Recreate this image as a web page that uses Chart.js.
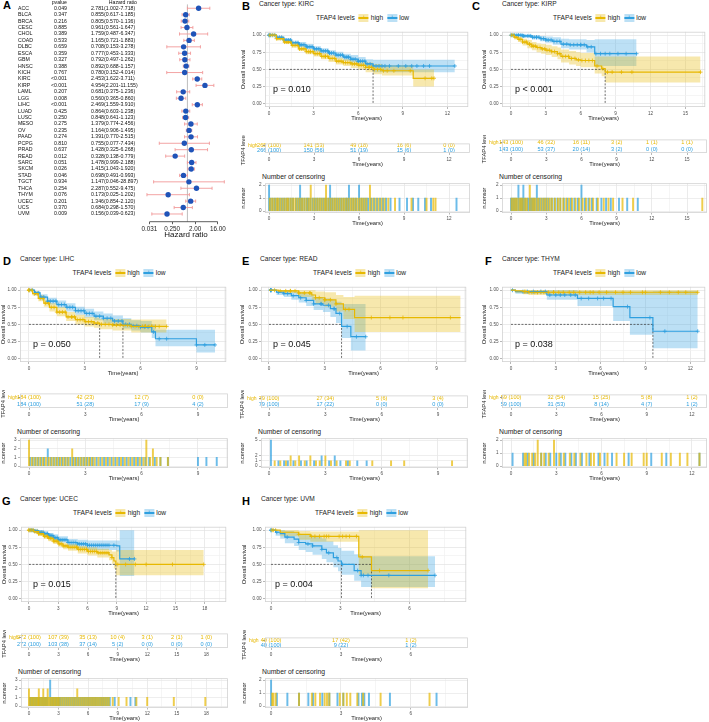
<!DOCTYPE html>
<html>
<head>
<meta charset="utf-8">
<script src="https://cdn.jsdelivr.net/npm/chart.js@4.4.0/dist/chart.umd.min.js"></script>
<style>
  body { margin: 0; background: #fff; }
  #fig { position: relative; width: 709px; height: 722px; overflow: hidden; background: #fff;
         font-family: "Liberation Sans", Arial, sans-serif; color: #222; }
  #fig canvas { position: absolute; }
  .t { position: absolute; white-space: nowrap; line-height: 1; transform: translateY(-50%); }
  .lg { position: absolute; display: flex; align-items: center; transform: translate(-50%, -50%);
        font-size: 6.6px; white-space: nowrap; line-height: 1; }
  .key { display: inline-block; width: 10px; height: 8px; position: relative; margin: 0 2px 0 3px; }
  .key i { position: absolute; left: 0; right: 0; top: 3.4px; height: 1.2px; }
  .key b { position: absolute; left: 0; right: 0; top: 0; text-align: center; font-size: 8px;
           font-weight: normal; line-height: 7px; }
</style>
</head>
<body>
<div id="fig"></div>
<script>
// ---- panel A: forest plot ----
var cancers = ['ACC','BLCA','BRCA','CESC','CHOL','COAD','DLBC','ESCA','GBM','HNSC','KICH','KIRC','KIRP','LAML','LGG','LIHC','LUAD','LUSC','MESO','OV','PAAD','PCPG','PRAD','READ','SARC','SKCM','STAD','TGCT','THCA','THYM','UCEC','UCS','UVM'];
var pvals = ['0.049','0.347','0.216','0.885','0.389','0.533','0.659','0.359','0.327','0.388','0.767','<0.001','<0.001','0.207','0.008','<0.001','0.425','0.250','0.275','0.235','0.274','0.810','0.637','0.012','0.051','0.026','0.046','0.934','0.254','0.076','0.201','0.370','0.009'];
var hrs = [2.781,0.855,0.805,0.961,1.759,1.165,0.708,0.777,0.792,0.892,0.780,2.453,4.954,0.681,0.560,2.469,0.864,0.848,1.379,1.164,1.391,0.755,1.428,0.328,1.478,1.415,0.698,1.147,2.287,0.173,1.346,0.684,0.156];
var hrLow = [1.002,0.617,0.570,0.561,0.487,0.721,0.153,0.453,0.497,0.688,0.152,1.622,2.201,0.375,0.365,1.559,0.603,0.641,0.774,0.906,0.770,0.077,0.325,0.138,0.999,1.043,0.491,0.046,0.552,0.025,0.854,0.298,0.039];
var hrHigh = [7.718,1.185,1.136,1.647,6.347,1.883,3.278,1.333,1.262,1.157,4.014,3.711,11.155,1.236,0.860,3.910,1.238,1.123,2.456,1.495,2.515,7.434,6.268,0.779,2.188,1.920,0.993,28.897,9.475,1.202,2.120,1.570,0.623];
var hrTicks = [0.03125, 0.25, 2, 16];
var hrTickLabels = ['0.031', '0.250', '2.00', '16.00'];

// ---- B: KIRC ----
var kircHighT = [0, 0.5, 1, 1.5, 2, 2.5, 3, 3.5, 4, 4.5, 5, 5.5, 6, 6.5, 7.0, 7.6, 9.7, 11.1];
var kircHighS = [1, 0.95, 0.9, 0.85, 0.8, 0.76, 0.73, 0.69, 0.66, 0.62, 0.6, 0.58, 0.56, 0.53, 0.5, 0.48, 0.37, 0.37];
var kircHighLo = [1, 0.93, 0.87, 0.82, 0.77, 0.72, 0.69, 0.65, 0.61, 0.57, 0.55, 0.52, 0.5, 0.46, 0.43, 0.41, 0.25, 0.25];
var kircHighHi = [1, 0.97, 0.93, 0.89, 0.84, 0.8, 0.78, 0.74, 0.71, 0.67, 0.65, 0.63, 0.62, 0.6, 0.58, 0.56, 0.5, 0.5];
var kircLowT = [0, 0.5, 1, 1.5, 2, 2.5, 3, 3.5, 4, 4.5, 5, 5.5, 6, 6.5, 7, 12.5];
var kircLowS = [1, 0.97, 0.93, 0.89, 0.86, 0.83, 0.8, 0.77, 0.74, 0.71, 0.68, 0.65, 0.62, 0.58, 0.55, 0.55];
var kircLowLo = [1, 0.95, 0.91, 0.86, 0.83, 0.8, 0.76, 0.73, 0.7, 0.66, 0.63, 0.6, 0.56, 0.52, 0.46, 0.46];
var kircLowHi = [1, 0.99, 0.96, 0.92, 0.9, 0.87, 0.84, 0.81, 0.78, 0.76, 0.73, 0.71, 0.68, 0.65, 0.64, 0.64];
var kircHighCens = [0.05, 0.2, 0.35, 0.5, 0.6, 0.75, 0.9, 1.05, 1.2, 1.3, 1.45, 1.6, 1.75, 1.9, 2.05, 2.2, 2.35, 2.5, 2.65, 2.78, 2.78, 2.95, 3.1, 3.25, 3.4, 3.55, 3.7, 3.8, 3.8, 3.95, 4.1, 4.25, 4.4, 4.55, 4.7, 4.85, 5.0, 5.15, 5.3, 5.45, 5.6, 5.75, 5.9, 6.05, 6.2, 6.35, 6.5, 6.73, 6.73, 6.9, 7.1, 7.3, 7.5, 7.7, 7.95, 8.4, 9.5, 10.5, 10.95, 11.1];
var kircLowCens = [0, 0, 0.1, 0.25, 0.4, 0.55, 0.7, 0.85, 1.0, 1.15, 1.3, 1.45, 1.6, 1.8, 1.95, 2.07, 2.07, 2.2, 2.35, 2.5, 2.6, 2.75, 2.9, 3.05, 3.2, 3.35, 3.5, 3.65, 3.8, 3.95, 4.07, 4.07, 4.2, 4.35, 4.5, 4.65, 4.8, 4.95, 5.1, 5.2, 5.33, 5.33, 5.5, 5.65, 5.8, 6.0, 6.0, 6.15, 6.3, 6.45, 6.6, 6.8, 7.0, 7.2, 7.4, 7.6, 7.8, 8.1, 8.7, 9.2, 9.6, 9.95, 10.4, 10.8, 12.5];
var kircRiskT = [0, 3, 6, 9, 12];
var kircRiskHigh = ['265 (100)', '141 (53)', '49 (18)', '16 (6)', '0 (0)'];
var kircRiskLow = ['266 (100)', '150 (56)', '51 (19)', '15 (6)', '1 (0)'];

// ---- C: KIRP ----
var kirpHighT = [0, 0.3, 0.6, 1.0, 1.4, 1.8, 2.2, 2.6, 3.0, 3.5, 4.0, 4.3, 5.0, 5.6, 6.0, 7.2, 7.8, 8.1, 16.3];
var kirpHighS = [1, 0.97, 0.94, 0.9, 0.87, 0.84, 0.82, 0.8, 0.78, 0.76, 0.73, 0.69, 0.66, 0.64, 0.63, 0.55, 0.51, 0.46, 0.46];
var kirpHighLo = [1, 0.94, 0.9, 0.85, 0.81, 0.78, 0.75, 0.73, 0.71, 0.68, 0.65, 0.6, 0.57, 0.55, 0.53, 0.44, 0.4, 0.31, 0.31];
var kirpHighHi = [1, 1, 0.98, 0.95, 0.93, 0.9, 0.88, 0.87, 0.86, 0.84, 0.82, 0.79, 0.77, 0.75, 0.74, 0.69, 0.69, 0.69, 0.69];
var kirpLowT = [0, 1.0, 1.8, 2.5, 3.0, 3.6, 4.3, 5.0, 6.5, 7.2, 10.8];
var kirpLowS = [1, 0.99, 0.97, 0.95, 0.93, 0.91, 0.87, 0.86, 0.83, 0.73, 0.73];
var kirpLowLo = [1, 0.97, 0.94, 0.91, 0.89, 0.86, 0.81, 0.79, 0.75, 0.55, 0.55];
var kirpLowHi = [1, 1, 1, 0.99, 0.98, 0.97, 0.95, 0.94, 0.93, 0.94, 0.94];
var kirpHighCens = [0.05, 0.2, 0.35, 0.5, 0.7, 0.85, 1.0, 1.2, 1.35, 1.6, 1.6, 1.8, 1.95, 2.1, 2.3, 2.5, 2.7, 2.9, 3.1, 3.3, 3.5, 3.75, 4.0, 4.2, 4.45, 4.7, 4.95, 5.2, 5.5, 5.8, 6.1, 6.4, 6.7, 7.0, 7.4, 7.9, 8.3, 8.7, 9.5, 10.4, 16.3];
var kirpLowCens = [0, 0.15, 0.3, 0.45, 0.63, 0.63, 0.8, 0.95, 1.05, 1.05, 1.2, 1.4, 1.55, 1.7, 1.85, 2.0, 2.2, 2.2, 2.4, 2.6, 2.8, 3.0, 3.2, 3.45, 3.7, 3.95, 4.2, 4.5, 4.8, 5.1, 5.4, 5.7, 6.0, 6.0, 6.3, 6.6, 6.9, 7.3, 7.7, 8.1, 8.5, 9.2, 9.9, 10.8];
var kirpRiskT = [0, 3, 6, 9, 12, 15];
var kirpRiskHigh = ['143 (100)', '46 (32)', '16 (11)', '3 (2)', '1 (1)', '1 (1)'];
var kirpRiskLow = ['143 (100)', '53 (37)', '20 (14)', '3 (2)', '0 (0)', '0 (0)'];

// ---- D: LIHC ----
var lihcHighT = [0, 0.2, 0.5, 0.8, 1.1, 1.5, 2.0, 2.5, 3.0, 3.5, 3.8, 4.5, 5.5, 7.4];
var lihcHighS = [1, 0.95, 0.88, 0.81, 0.75, 0.68, 0.61, 0.57, 0.54, 0.52, 0.5, 0.49, 0.47, 0.47];
var lihcHighLo = [1, 0.92, 0.84, 0.76, 0.69, 0.62, 0.55, 0.5, 0.47, 0.45, 0.43, 0.41, 0.38, 0.37];
var lihcHighHi = [1, 0.98, 0.93, 0.86, 0.81, 0.75, 0.68, 0.64, 0.61, 0.6, 0.58, 0.58, 0.57, 0.57];
var lihcLowT = [0, 0.3, 0.6, 1.0, 1.5, 2.0, 2.5, 3.0, 3.5, 4.0, 4.5, 5.05, 5.5, 6.0, 6.6, 6.8, 9.0, 10.0];
var lihcLowS = [1, 0.96, 0.9, 0.84, 0.79, 0.75, 0.7, 0.66, 0.62, 0.59, 0.55, 0.5, 0.48, 0.46, 0.39, 0.29, 0.2, 0.2];
var lihcLowLo = [1, 0.93, 0.86, 0.79, 0.74, 0.69, 0.64, 0.6, 0.56, 0.52, 0.48, 0.44, 0.41, 0.38, 0.3, 0.18, 0.09, 0.09];
var lihcLowHi = [1, 0.99, 0.94, 0.89, 0.85, 0.81, 0.76, 0.73, 0.69, 0.66, 0.63, 0.59, 0.56, 0.55, 0.5, 0.42, 0.42, 0.42];
var lihcHighCens = [0, 0, 0, 0.15, 0.3, 0.45, 0.6, 0.75, 0.9, 1.05, 1.2, 1.35, 1.5, 1.65, 1.8, 1.95, 2.1, 2.3, 2.3, 2.45, 2.6, 2.75, 2.9, 3.05, 3.2, 3.35, 3.5, 3.7, 3.9, 4.1, 4.3, 4.5, 4.7, 4.9, 5.1, 5.3, 5.5, 5.7, 5.9, 6.1, 6.25, 6.25, 6.25, 6.45, 6.6, 6.6, 6.8, 7.0, 7.4];
var lihcLowCens = [0.05, 0.2, 0.35, 0.5, 0.65, 0.8, 1.0, 1.0, 1.15, 1.3, 1.45, 1.6, 1.75, 1.9, 2.05, 2.2, 2.35, 2.5, 2.65, 2.8, 2.95, 3.1, 3.25, 3.4, 3.6, 3.8, 4.0, 4.2, 4.4, 4.6, 4.8, 5.0, 5.2, 5.4, 5.6, 5.8, 6.0, 6.2, 6.4, 6.7, 7.0, 7.4, 9.0, 9.45, 10.0];
var lihcRiskT = [0, 3, 6, 9];
var lihcRiskHigh = ['184 (100)', '42 (23)', '12 (7)', '0 (0)'];
var lihcRiskLow = ['184 (100)', '51 (28)', '17 (9)', '4 (2)'];

// ---- E: READ ----
var readHighT = [0, 0.5, 1.6, 2.3, 2.5, 3.0, 3.6, 4.0, 4.6, 10.3];
var readHighS = [1, 0.99, 0.96, 0.93, 0.89, 0.86, 0.8, 0.72, 0.6, 0.6];
var readHighLo = [1, 0.96, 0.9, 0.85, 0.8, 0.76, 0.69, 0.58, 0.39, 0.39];
var readHighHi = [1, 1, 1, 1, 0.98, 0.97, 0.93, 0.9, 0.92, 0.92];
var readLowT = [0, 0.4, 0.8, 1.2, 1.6, 2.0, 2.4, 2.9, 3.3, 3.6, 3.9, 4.4, 5.2];
var readLowS = [1, 0.97, 0.95, 0.92, 0.89, 0.85, 0.8, 0.78, 0.73, 0.66, 0.47, 0.32, 0.32];
var readLowLo = [1, 0.93, 0.9, 0.86, 0.82, 0.77, 0.71, 0.68, 0.61, 0.52, 0.3, 0.12, 0.12];
var readLowHi = [1, 1, 1, 0.98, 0.96, 0.94, 0.9, 0.88, 0.86, 0.83, 0.8, 0.8, 0.8];
var readHighCens = [0.3, 0.6, 0.9, 1.15, 1.15, 1.4, 1.6, 1.6, 1.9, 2.2, 2.2, 2.5, 2.7, 3.0, 3.0, 3.3, 3.6, 4.1, 4.3, 5.5, 6.5, 7.2, 9.75];
var readLowCens = [0.1, 0.1, 0.1, 0.1, 0.1, 0.5, 0.8, 1.0, 1.3, 1.7, 2.0, 2.4, 2.8, 2.8, 3.2, 3.5, 3.5, 3.8, 4.2, 4.7, 5.2];
var readRiskT = [0, 3, 6, 9];
var readRiskHigh = ['79 (100)', '27 (34)', '5 (6)', '3 (4)'];
var readRiskLow = ['79 (100)', '17 (22)', '0 (0)', '0 (0)'];

// ---- F: THYM ----
var thymHighT = [0, 0.3, 0.8, 1.2, 12.5];
var thymHighS = [1, 0.99, 0.98, 0.97, 0.97];
var thymHighLo = [1, 0.96, 0.94, 0.93, 0.93];
var thymHighHi = [1, 1, 1, 1, 1];
var thymLowT = [0, 0.3, 2.4, 4.45, 6.84, 7.96, 9.5, 12.5];
var thymLowS = [1, 0.98, 0.93, 0.88, 0.76, 0.6, 0.4, 0.4];
var thymLowLo = [1, 0.95, 0.86, 0.77, 0.55, 0.35, 0.15, 0.15];
var thymLowHi = [1, 1, 1, 0.99, 0.98, 0.98, 0.99, 0.99];
var thymHighCens = [0.9, 1.0, 1.2, 1.4, 1.6, 1.77, 1.77, 2.0, 2.2, 2.5, 2.85, 2.85, 3.2, 3.5, 3.9, 4.2, 4.6, 5.0, 5.3, 5.5, 5.9, 6.4, 7.0, 7.5, 8.0, 8.8, 9.0, 10.0, 10.6, 11.2, 11.7, 12.5];
var thymLowCens = [0.1, 0.8, 1.1, 1.5, 2.0, 2.3, 2.6, 3.0, 3.3, 3.6, 4.0, 4.3, 4.7, 5.2, 5.8, 6.2, 6.7, 7.8, 9.3, 10.3, 12.5];
var thymRiskT = [0, 3, 6, 9, 12];
var thymRiskHigh = ['59 (100)', '32 (54)', '15 (25)', '5 (8)', '1 (2)'];
var thymRiskLow = ['59 (100)', '31 (53)', '8 (14)', '4 (7)', '1 (2)'];

// ---- G: UCEC ----
var ucecHighT = [0, 0.5, 1, 1.5, 2, 2.5, 3, 3.5, 4, 5, 6, 7, 8.2, 8.5, 8.7, 8.9, 17.9];
var ucecHighS = [1, 0.98, 0.95, 0.91, 0.88, 0.84, 0.8, 0.77, 0.75, 0.72, 0.69, 0.67, 0.64, 0.6, 0.55, 0.5, 0.5];
var ucecHighLo = [1, 0.96, 0.92, 0.88, 0.84, 0.8, 0.76, 0.72, 0.7, 0.66, 0.63, 0.6, 0.56, 0.51, 0.44, 0.34, 0.34];
var ucecHighHi = [1, 1, 0.98, 0.95, 0.92, 0.88, 0.85, 0.82, 0.8, 0.77, 0.75, 0.73, 0.71, 0.69, 0.69, 0.71, 0.71];
var ucecLowT = [0, 0.5, 1, 1.5, 2, 2.5, 3, 4, 5, 6, 9.0, 9.3, 10.8];
var ucecLowS = [1, 0.99, 0.97, 0.95, 0.92, 0.89, 0.86, 0.82, 0.8, 0.78, 0.77, 0.58, 0.58];
var ucecLowLo = [1, 0.97, 0.94, 0.91, 0.88, 0.85, 0.82, 0.77, 0.74, 0.71, 0.69, 0.33, 0.33];
var ucecLowHi = [1, 1, 1, 0.98, 0.96, 0.94, 0.91, 0.87, 0.86, 0.85, 0.85, 1, 1];
var ucecHighCens = [0, 0, 0.15, 0.3, 0.45, 0.6, 0.75, 0.9, 1.0, 1.0, 1.15, 1.3, 1.45, 1.45, 1.6, 1.75, 1.9, 1.9, 2.05, 2.2, 2.35, 2.5, 2.65, 2.8, 2.95, 3.1, 3.3, 3.5, 3.7, 3.9, 4.1, 4.3, 4.5, 4.7, 4.9, 4.9, 5.1, 5.3, 5.5, 5.7, 5.9, 6.1, 6.3, 6.5, 6.7, 6.9, 7.1, 7.3, 7.5, 7.7, 7.9, 8.1, 8.5, 9.1, 9.9, 10.9, 12.0, 14.7, 17.9];
var ucecLowCens = [0.1, 0.25, 0.4, 0.55, 0.7, 0.85, 1.0, 1.15, 1.3, 1.45, 1.6, 1.75, 1.9, 2.15, 2.15, 2.15, 2.3, 2.45, 2.6, 2.75, 2.9, 3.05, 3.2, 3.4, 3.6, 3.8, 4.0, 4.2, 4.4, 4.6, 4.8, 5.0, 5.2, 5.4, 5.6, 5.8, 6.0, 6.2, 6.4, 6.6, 6.8, 7.0, 7.2, 7.4, 7.6, 7.8, 8.0, 8.2, 8.7, 10.3, 10.8];
var ucecRiskT = [0, 3, 6, 9, 12, 15, 18];
var ucecRiskHigh = ['272 (100)', '107 (39)', '35 (13)', '10 (4)', '3 (1)', '2 (1)', '1 (0)'];
var ucecRiskLow = ['272 (100)', '103 (38)', '37 (14)', '5 (2)', '0 (0)', '0 (0)', '0 (0)'];

// ---- H: UVM ----
var uvmHighT = [0, 0.4, 1.2, 1.7, 3.8, 4.35, 6.8];
var uvmHighS = [1, 0.97, 0.94, 0.91, 0.61, 0.41, 0.41];
var uvmHighLo = [1, 0.91, 0.86, 0.83, 0.35, 0.15, 0.15];
var uvmHighHi = [1, 1, 0.99, 0.98, 1, 1, 1];
var uvmLowT = [0, 0.2, 0.4, 0.6, 1.0, 1.2, 1.5, 1.8, 2.2, 2.4, 2.7, 2.9, 3.05, 3.6, 3.9, 7.1];
var uvmLowS = [1, 0.97, 0.95, 0.9, 0.87, 0.82, 0.8, 0.77, 0.72, 0.67, 0.6, 0.55, 0.5, 0.41, 0.34, 0.34];
var uvmLowLo = [1, 0.92, 0.88, 0.81, 0.77, 0.71, 0.68, 0.64, 0.58, 0.53, 0.46, 0.4, 0.35, 0.26, 0.17, 0.17];
var uvmLowHi = [1, 1, 1, 0.99, 0.97, 0.94, 0.93, 0.91, 0.88, 0.84, 0.78, 0.74, 0.7, 0.65, 0.62, 0.62];
var uvmHighCens = [0.05, 0.1, 0.2, 1.2, 1.75, 1.9, 2.1, 2.3, 2.4, 2.5, 2.95, 3.1, 3.25, 3.4, 3.7, 3.95, 4.7, 6.8];
var uvmLowCens = [0, 0, 0.25, 0.7, 1.2, 1.6, 1.8, 2.2, 2.5, 2.85, 3.1, 3.75, 3.9, 4.0, 4.2, 5.1, 7.1];
var uvmRiskT = [0, 3, 6];
var uvmRiskHigh = ['40 (100)', '17 (42)', '1 (2)'];
var uvmRiskLow = ['40 (100)', '9 (22)', '1 (2)'];

var pTexts = { KIRC: 'p = 0.010', KIRP: 'p < 0.001', LIHC: 'p = 0.050', READ: 'p = 0.045', THYM: 'p = 0.038', UCEC: 'p = 0.015', UVM: 'p = 0.004' };

// ---------------------------------------------------------------
Chart.defaults.font.family = "'Liberation Sans', Arial, sans-serif";
Chart.defaults.color = '#333';
var FONT = '"Liberation Sans", Arial, sans-serif';
var fig = document.getElementById('fig');
var YEL = '#E7B800', BLU = '#2E9FDF';
var YEL_BAND = 'rgba(231,184,0,0.32)', BLU_BAND = 'rgba(46,159,223,0.32)';
var YEL_BAR = 'rgba(231,184,0,0.7)', BLU_BAR = 'rgba(46,159,223,0.7)';

function text(x, y, s, css) {
  var d = document.createElement('div');
  d.className = 't';
  d.style.cssText = (css || '') + ';left:' + x + 'px;top:' + y + 'px';
  d.textContent = s;
  fig.appendChild(d);
  return d;
}

function legend(cx, cy) {
  var d = document.createElement('div');
  d.className = 'lg';
  d.style.left = cx + 'px';
  d.style.top = cy + 'px';
  d.innerHTML = 'TFAP4 levels' +
    '<span class="key" style="margin-left:4px;background:' + YEL_BAND + '"><i style="background:' + YEL + '"></i><b style="color:' + YEL + '">+</b></span>high' +
    '<span class="key" style="margin-left:4px;background:' + BLU_BAND + '"><i style="background:' + BLU + '"></i><b style="color:' + BLU + '">+</b></span>low';
  fig.appendChild(d);
}

// canvas whose chart area is exactly l..r, t..b
function addCanvas(l, t, r, b, L, B) {
  var cv = document.createElement('canvas');
  cv.width = r - l + L + 3;
  cv.height = b - t + B + 6;
  cv.style.left = (l - L) + 'px';
  cv.style.top = (t - 3) + 'px';
  fig.appendChild(cv);
  return cv;
}

function isMajor(v, step) {
  var k = v / step;
  return Math.abs(k - Math.round(k)) < 1e-6;
}
function pts(t, v) {
  return t.map(function (x, i) { return { x: x, y: v[i] }; });
}
function stepAt(t, s, x) {
  var v = s[0];
  for (var i = 0; i < t.length; i++) if (t[i] <= x) v = s[i];
  return v;
}
function median(t, s) {
  for (var i = 0; i < t.length; i++) if (s[i] <= 0.5) return t[i];
  return null;
}
function tally(arr) {
  var m = {};
  arr.forEach(function (t) { m[t] = (m[t] || 0) + 1; });
  return Object.keys(m).map(function (k) { return { x: +k, y: m[k] }; });
}

var framePlugin = {
  id: 'frame',
  afterDraw: function (ch) {
    var a = ch.chartArea, c = ch.ctx;
    c.save();
    c.strokeStyle = '#d2d2d2';
    c.lineWidth = 0.8;
    c.strokeRect(a.left + 0.4, a.top + 0.4, a.right - a.left - 0.8, a.bottom - a.top - 0.8);
    c.restore();
  }
};

function baseOptions() {
  return {
    responsive: false, animation: false, events: [], devicePixelRatio: 1,
    layout: { padding: { top: 3, right: 3, bottom: 3, left: 0 } },
    plugins: { legend: { display: false }, tooltip: { enabled: false } },
    elements: { line: { tension: 0 } }
  };
}

function xAxis(p, B, tl, pad, onArea) {
  return {
    type: 'linear', min: p.xmin, max: p.xmax, offset: false,
    border: { display: false },
    grid: {
      offset: false, drawOnChartArea: onArea, lineWidth: 0.7, tickLength: tl,
      color: function (c) { return c.tick && isMajor(c.tick.value, 3) ? '#e3e3e3' : '#f1f1f1'; },
      tickColor: function (c) { return c.tick && isMajor(c.tick.value, 3) ? '#999' : 'rgba(0,0,0,0)'; }
    },
    ticks: {
      stepSize: 1.5, includeBounds: false, autoSkip: false, maxRotation: 0, padding: pad,
      font: { size: 4.6 }, color: '#4d4d4d',
      callback: function (v) { return isMajor(v, 3) ? String(Math.round(v)) : ''; }
    },
    title: { display: true, text: 'Time(years)', font: { size: 5.8 }, padding: 0, color: '#222' },
    afterFit: function (s) { s.height = B; }
  };
}

// ---- forest plot (A) ----
text(3, 5, 'A', 'font-size:11px;font-weight:bold;color:#000');

var forestPlugin = {
  id: 'forest',
  beforeDatasetsDraw: function (ch) {
    var c = ch.ctx, xs = ch.scales.x, ys = ch.scales.y, a = ch.chartArea;
    c.save();
    c.strokeStyle = '#bdbdbd';
    c.lineWidth = 1;
    var x1 = xs.getPixelForValue(1);
    c.beginPath(); c.moveTo(x1, a.top); c.lineTo(x1, a.bottom); c.stroke();
    c.strokeStyle = '#f29a9a';
    c.lineWidth = 0.9;
    hrs.forEach(function (v, i) {
      var y = ys.getPixelForValue(i);
      var l = xs.getPixelForValue(hrLow[i]), r = xs.getPixelForValue(hrHigh[i]);
      c.beginPath();
      c.moveTo(l, y); c.lineTo(r, y);
      c.moveTo(l, y - 1.6); c.lineTo(l, y + 1.6);
      c.moveTo(r, y - 1.6); c.lineTo(r, y + 1.6);
      c.stroke();
    });
    c.restore();
  },
  afterDraw: function (ch) {
    var c = ch.ctx, xs = ch.scales.x, ys = ch.scales.y;
    c.save();
    c.fillStyle = '#111';
    c.font = '5.2px ' + FONT;
    c.textBaseline = 'middle';
    cancers.forEach(function (n, i) {
      var y = ys.getPixelForValue(i);
      c.textAlign = 'left';
      c.fillText(n, 18, y);
      c.textAlign = 'right';
      c.fillText(pvals[i], 67, y);
      c.textAlign = 'left';
      c.fillText(hrs[i].toFixed(3) + '(' + hrLow[i].toFixed(3) + '-' + hrHigh[i].toFixed(3) + ')', 91, y);
    });
    c.textAlign = 'right';
    c.fillText('pvalue', 67, 2.8);
    c.fillText('Hazard ratio', 137, 2.8);
    c.strokeStyle = '#333';
    c.lineWidth = 0.8;
    c.beginPath();
    c.moveTo(xs.getPixelForValue(hrTicks[0]), ch.chartArea.bottom);
    c.lineTo(xs.getPixelForValue(hrTicks[hrTicks.length - 1]), ch.chartArea.bottom);
    c.stroke();
    c.restore();
  }
};

(function () {
  var cv = document.createElement('canvas');
  cv.width = 240; cv.height = 245;
  cv.style.left = '0px'; cv.style.top = '0px';
  fig.appendChild(cv);
  var opts = baseOptions();
  opts.layout.padding = { top: 4.4, left: 144, right: 12, bottom: 5.2 };
  opts.scales = {
    x: {
      type: 'logarithmic', min: 0.0191, max: 40.5,
      border: { display: false },
      afterBuildTicks: function (s) { s.ticks = hrTicks.map(function (v) { return { value: v }; }); },
      grid: { drawOnChartArea: false, tickLength: 2.5, tickColor: '#333', lineWidth: 0.8 },
      ticks: { autoSkip: false, maxRotation: 0, padding: 1, font: { size: 6.3 }, color: '#222',
               callback: function (v, i) { return hrTickLabels[i]; } },
      title: { display: true, text: 'Hazard ratio', font: { size: 8 }, padding: 0, color: '#111' },
      afterFit: function (s) { s.height = 18.1; }
    },
    y: { type: 'linear', reverse: true, min: -0.6, max: 33.2, display: false }
  };
  new Chart(cv, {
    type: 'scatter',
    data: { datasets: [{ data: hrs.map(function (v, i) { return { x: v, y: i }; }),
                         pointRadius: 2.7, backgroundColor: '#1f53b8', borderWidth: 0 }] },
    options: opts,
    plugins: [forestPlugin]
  });
})();

// ---- KM panels ----
function grp(t, s, lo, hi, cens, risk) { return { t: t, s: s, lo: lo, hi: hi, cens: cens, risk: risk }; }

var kmPanels = [
  { tag: 'B', name: 'KIRC', oy: 0, l: 265, r: 470, L: 25, xmin: -0.27, xmax: 13.4, letterX: 242, titleX: 259,
    high: grp(kircHighT, kircHighS, kircHighLo, kircHighHi, kircHighCens, kircRiskHigh),
    low: grp(kircLowT, kircLowS, kircLowLo, kircLowHi, kircLowCens, kircRiskLow), riskT: kircRiskT },
  { tag: 'C', name: 'KIRP', oy: 0, l: 502, r: 707, L: 21, xmin: -0.77, xmax: 16.7, letterX: 472, titleX: 502,
    high: grp(kirpHighT, kirpHighS, kirpHighLo, kirpHighHi, kirpHighCens, kirpRiskHigh),
    low: grp(kirpLowT, kirpLowS, kirpLowLo, kirpLowHi, kirpLowCens, kirpRiskLow), riskT: kirpRiskT },
  { tag: 'D', name: 'LIHC', oy: 255, l: 20, r: 228, L: 20, xmin: -0.48, xmax: 10.6, letterX: 3, titleX: 20,
    high: grp(lihcHighT, lihcHighS, lihcHighLo, lihcHighHi, lihcHighCens, lihcRiskHigh),
    low: grp(lihcLowT, lihcLowS, lihcLowLo, lihcLowHi, lihcLowCens, lihcRiskLow), riskT: lihcRiskT },
  { tag: 'E', name: 'READ', oy: 255, l: 261, r: 468, L: 22, xmin: -0.43, xmax: 10.6, letterX: 242, titleX: 260,
    high: grp(readHighT, readHighS, readHighLo, readHighHi, readHighCens, readRiskHigh),
    low: grp(readLowT, readLowS, readLowLo, readLowHi, readLowCens, readRiskLow), riskT: readRiskT },
  { tag: 'F', name: 'THYM', oy: 255, l: 502, r: 707, L: 21, xmin: -0.6, xmax: 13.0, letterX: 485, titleX: 502,
    high: grp(thymHighT, thymHighS, thymHighLo, thymHighHi, thymHighCens, thymRiskHigh),
    low: grp(thymLowT, thymLowS, thymLowLo, thymLowHi, thymLowCens, thymRiskLow), riskT: thymRiskT },
  { tag: 'G', name: 'UCEC', oy: 495, l: 21, r: 228, L: 20, xmin: -0.81, xmax: 20.2, letterX: 2, titleX: 20,
    high: grp(ucecHighT, ucecHighS, ucecHighLo, ucecHighHi, ucecHighCens, ucecRiskHigh),
    low: grp(ucecLowT, ucecLowS, ucecLowLo, ucecLowHi, ucecLowCens, ucecRiskLow), riskT: ucecRiskT },
  { tag: 'H', name: 'UVM', oy: 495, l: 265, r: 468, L: 24, xmin: -0.26, xmax: 8.45, letterX: 242, titleX: 261,
    high: grp(uvmHighT, uvmHighS, uvmHighLo, uvmHighHi, uvmHighCens, uvmRiskHigh),
    low: grp(uvmLowT, uvmLowS, uvmLowLo, uvmLowHi, uvmLowCens, uvmRiskLow), riskT: uvmRiskT }
];

function survChart(p) {
  var cv = addCanvas(p.l, p.oy + 30, p.r, p.oy + 107, p.L, 15);
  var groups = [[p.high, YEL, YEL_BAND], [p.low, BLU, BLU_BAND]];
  var ds = [];
  groups.forEach(function (g) {
    ds.push({ data: pts(g[0].t, g[0].s), stepped: true, borderColor: g[1], borderWidth: 1.2, pointRadius: 0, fill: false });
  });
  groups.forEach(function (g) {
    ds.push({ data: g[0].cens.map(function (x) { return { x: x, y: stepAt(g[0].t, g[0].s, x) }; }),
              showLine: false, pointStyle: 'cross', pointRadius: 2, pointBorderColor: g[1],
              pointBorderWidth: 0.8, borderColor: g[1], fill: false });
  });
  var meds = [median(p.high.t, p.high.s), median(p.low.t, p.low.s)].filter(function (m) { return m !== null; });
  if (meds.length) {
    var dash = { borderColor: '#333', borderWidth: 0.7, borderDash: [2, 1.5], pointRadius: 0, fill: false };
    ds.push(Object.assign({ data: [{ x: 0, y: 0.5 }, { x: Math.max.apply(null, meds), y: 0.5 }] }, dash));
    meds.forEach(function (m) {
      ds.push(Object.assign({ data: [{ x: m, y: 0.5 }, { x: m, y: 0 }] }, dash));
    });
  }
  groups.forEach(function (g) {
    ds.push({ data: pts(g[0].t, g[0].hi), stepped: true, borderColor: 'rgba(0,0,0,0)', borderWidth: 1,
              pointRadius: 0, fill: '+1', backgroundColor: g[2] });
    ds.push({ data: pts(g[0].t, g[0].lo), stepped: true, borderColor: 'rgba(0,0,0,0)', borderWidth: 1,
              pointRadius: 0, fill: false });
  });
  var opts = baseOptions();
  opts.scales = {
    x: xAxis(p, 15, 2, 1.5, true),
    y: {
      min: -0.05, max: 1.05, border: { display: false },
      grid: { lineWidth: 0.7, tickLength: 2,
              color: function (c) { return c.tick && isMajor(c.tick.value, 0.25) ? '#e3e3e3' : '#f1f1f1'; },
              tickColor: function (c) { return c.tick && isMajor(c.tick.value, 0.25) ? '#999' : 'rgba(0,0,0,0)'; } },
      ticks: { stepSize: 0.125, includeBounds: false, autoSkip: false, padding: 1.5,
               font: { size: 4.6 }, color: '#4d4d4d',
               callback: function (v) { return isMajor(v, 0.25) ? v.toFixed(2) : ''; } },
      title: { display: true, text: 'Overall survival', font: { size: 5.8 }, padding: 0, color: '#222' },
      afterFit: function (s) { s.width = p.L; }
    }
  };
  var pPlugin = {
    id: 'pv',
    afterDatasetsDraw: function (ch) {
      var c = ch.ctx;
      c.save();
      c.font = '9px ' + FONT;
      c.fillStyle = '#111';
      c.textBaseline = 'middle';
      c.fillText(pTexts[p.name], ch.scales.x.getPixelForValue(0) + 4, ch.scales.y.getPixelForValue(0.2));
      c.restore();
    }
  };
  new Chart(cv, { type: 'line', data: { datasets: ds }, options: opts, plugins: [framePlugin, pPlugin] });
}

var riskTextPlugin = {
  id: 'riskText',
  afterDatasetsDraw: function (ch) {
    var c = ch.ctx;
    c.save();
    c.font = '5.6px ' + FONT;
    c.textAlign = 'center';
    c.textBaseline = 'middle';
    ch.data.datasets.forEach(function (d, k) {
      c.fillStyle = d.txtColor;
      ch.getDatasetMeta(k).data.forEach(function (el, i) { c.fillText(d.txt[i], el.x, el.y); });
    });
    c.restore();
  }
};

function riskChart(p) {
  var cv = addCanvas(p.l, p.oy + 138, p.r, p.oy + 153, p.L, 15);
  var opts = baseOptions();
  opts.scales = {
    x: xAxis(p, 15, 2, 1.5, false),
    y: {
      type: 'category', labels: ['high', 'low'], offset: true, border: { display: false },
      grid: { drawOnChartArea: false, tickLength: 2, tickColor: '#999' },
      ticks: { padding: Math.max(0.5, p.L - 19.5), font: { size: 5 },
               color: function (c) { return c.index === 0 ? YEL : BLU; } },
      title: { display: true, text: 'TFAP4 levels', font: { size: 5.8 }, padding: 0, color: '#222' },
      afterFit: function (s) { s.width = p.L; }
    }
  };
  new Chart(cv, {
    type: 'scatter',
    data: { datasets: [
      { data: p.riskT.map(function (t) { return { x: t, y: 'high' }; }), txt: p.high.risk, txtColor: YEL, pointRadius: 0 },
      { data: p.riskT.map(function (t) { return { x: t, y: 'low' }; }), txt: p.low.risk, txtColor: BLU, pointRadius: 0 }
    ] },
    options: opts,
    plugins: [framePlugin, riskTextPlugin]
  });
}

function censChart(p) {
  var cv = addCanvas(p.l, p.oy + 182, p.r, p.oy + 213, p.L, 14);
  var hiBars = tally(p.high.cens), loBars = tally(p.low.cens);
  var counts = [0];
  hiBars.concat(loBars).forEach(function (b) { if (counts.indexOf(b.y) < 0) counts.push(b.y); });
  counts.sort(function (a, b) { return a - b; });
  var maxC = counts[counts.length - 1];
  var opts = baseOptions();
  opts.scales = {
    x: xAxis(p, 14, 1.5, 1, true),
    y: {
      min: -0.075 * maxC, max: 1.075 * maxC, border: { display: false },
      afterBuildTicks: function (s) { s.ticks = counts.map(function (v) { return { value: v }; }); },
      grid: { lineWidth: 0.7, tickLength: 2, color: '#e6e6e6', tickColor: '#999' },
      ticks: { padding: 1.5, font: { size: 4.6 }, color: '#4d4d4d', autoSkip: false },
      title: { display: true, text: 'n.censor', font: { size: 5.4 }, padding: 0, color: '#222' },
      afterFit: function (s) { s.width = p.L; }
    }
  };
  new Chart(cv, {
    type: 'bar',
    data: { datasets: [
      { data: hiBars, backgroundColor: YEL_BAR, grouped: false, barThickness: 1.3 },
      { data: loBars, backgroundColor: BLU_BAR, grouped: false, barThickness: 1.3 }
    ] },
    options: opts,
    plugins: [framePlugin]
  });
}

kmPanels.forEach(function (p) {
  text(p.letterX, p.oy + 6, p.tag, 'font-size:11px;font-weight:bold;color:#000');
  text(p.titleX, p.oy + 3.5, 'Cancer type: ' + p.name, 'font-size:6.6px;color:#222');
  legend((p.l + p.r) / 2 - 5, p.oy + 18);
  survChart(p);
  riskChart(p);
  text(p.l - 3, p.oy + 177, 'Number of censoring', 'font-size:6.8px;color:#222');
  censChart(p);
});
</script>
</body>
</html>
